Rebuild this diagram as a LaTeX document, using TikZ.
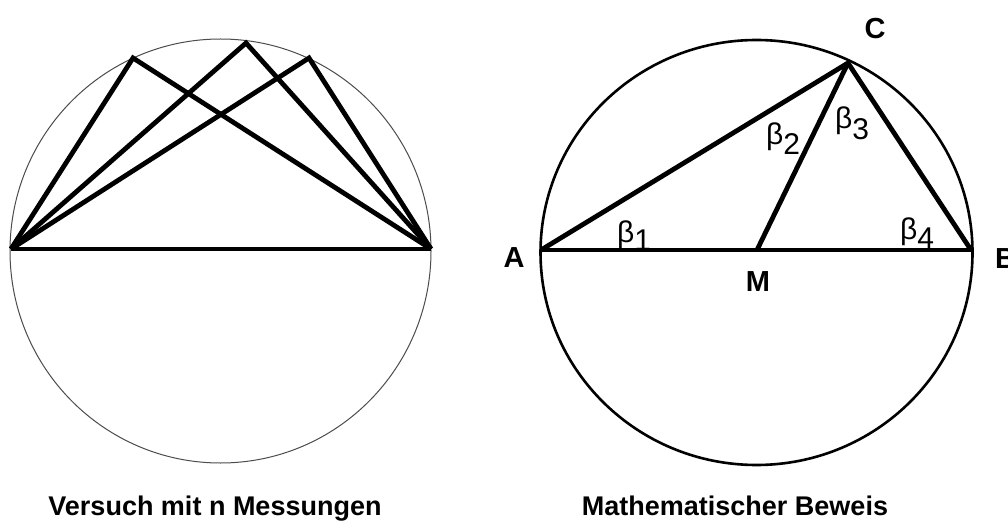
\documentclass[tikz,border=0pt]{standalone}
\usepackage{fontspec}
\setmainfont{Liberation Sans}
\begin{document}
\begin{tikzpicture}[x=1pt,y=-1pt,
  thin circ/.style={draw=black!70,line width=1pt},
  bold circ/.style={draw=black,line width=2.6pt},
  chord/.style={draw=black,line width=4.8pt,line join=miter},
  pointlab/.style={font=\fontsize{29}{29}\selectfont\bfseries,inner sep=0pt},
  anglab/.style={font=\fontsize{30}{30}\selectfont,inner sep=0pt,anchor=base west},
  caption/.style={font=\fontsize{27}{27}\selectfont\bfseries,inner sep=0pt,anchor=base}]
\useasboundingbox (0,0) rectangle (1008,521);
\clip (0,0) rectangle (1008,521);
\fill[white] (0,0) rectangle (1008,521);
% left figure
\coordinate (L) at (11,249);
\coordinate (R) at (431,249);
\coordinate (P1) at (133,58);
\coordinate (P2) at (246,43);
\coordinate (P3) at (309,58);
\draw[thin circ] (220.5,251) ellipse [x radius=210.5,y radius=212];
\draw[chord] (L) -- (P1) -- (R);
\draw[chord] (L) -- (P2) -- (R);
\draw[chord] (L) -- (P3) -- (R);
\draw[chord] (L) -- (R);
% right figure
\coordinate (A) at (541,250);
\coordinate (B) at (971,250);
\coordinate (M) at (757,250);
\coordinate (C) at (848,63);
\draw[bold circ] (756.5,252.5) ellipse [x radius=216,y radius=212.5];
\draw[chord] (A) -- (C) -- (B);
\draw[chord] (C) -- (M);
\draw[chord] (A) -- (B);
\node[pointlab] (lA) at (514,258) {A};
\node[pointlab,anchor=west] (lB) at (995,259) {B};
\node[pointlab] (lC) at (875,29) {C};
\node[pointlab] (lM) at (758,282) {M};
\node[anglab] (b1) at (617,242) {β\raisebox{-9pt}{1}};
\node[anglab] (b2) at (766,145) {β\raisebox{-10pt}{2}};
\node[anglab] (b3) at (835,129) {β\raisebox{-11pt}{3}};
\node[anglab] (b4) at (900,240) {β\raisebox{-9pt}{4}};
% captions
\node[caption] (cap1) at (215,515) {Versuch mit n Messungen};
\node[caption] (cap2) at (735,515) {Mathematischer Beweis};
\end{tikzpicture}
\end{document}
